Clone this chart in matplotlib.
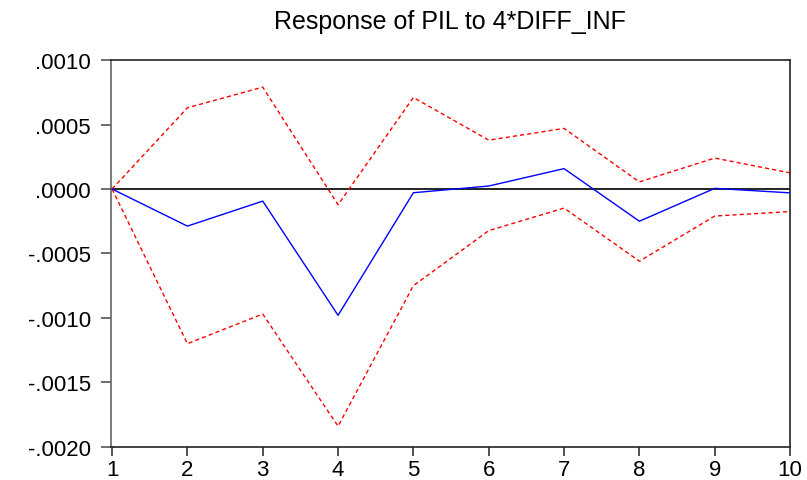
import matplotlib
matplotlib.use("Agg")
import matplotlib.pyplot as plt
import numpy as np

# impulse response periods and values
periods = [1, 2, 3, 4, 5, 6, 7, 8, 9, 10]
response = [0.0, -0.000288, -0.000094, -0.00098, -0.000029, 0.000023,
            0.000158, -0.00025, 0.000005, -0.00003]
upper_band = [0.0, 0.00063, 0.00079, -0.000122, 0.00071, 0.000379,
              0.00047, 0.000055, 0.00024, 0.000125]
lower_band = [0.0, -0.0012, -0.00097, -0.00184, -0.00075, -0.000323,
              -0.000148, -0.00056, -0.00021, -0.000175]
ytick_vals = [0.0010, 0.0005, 0.0, -0.0005, -0.0010, -0.0015, -0.0020]
ytick_labels = [".0010", ".0005", ".0000", "-.0005", "-.0010", "-.0015", "-.0020"]

plt.rcParams['font.family'] = ['Liberation Sans', 'DejaVu Sans']

fig = plt.figure(figsize=(8.07, 4.81), dpi=100)
ax = fig.add_axes([0.137, 0.069, 0.842, 0.804])

ax.axhline(0, color="black", linewidth=1.2, zorder=1)
ax.plot(periods, upper_band, color="#ff0000", linewidth=1.0, dashes=(3, 2.2), zorder=2)
ax.plot(periods, lower_band, color="#ff0000", linewidth=1.0, dashes=(3, 2.2), zorder=2)
ax.plot(periods, response, color="#0000ff", linewidth=1.0, zorder=3)

ax.set_xlim(0.98, 10)
ax.set_ylim(-0.0020, 0.0010)
ax.set_xticks(periods)
ax.set_xticklabels([str(p) for p in periods])
ax.set_yticks(ytick_vals)
ax.set_yticklabels(ytick_labels)

ax.tick_params(axis="y", direction="out", length=7, width=1.2, pad=7,
               labelsize=16, colors="#555555", labelcolor="black")
ax.tick_params(axis="x", direction="out", length=6.5, width=1.2, pad=2,
               labelsize=16, colors="#333333", labelcolor="black")

for side in ["top", "right", "bottom"]:
    ax.spines[side].set_color("#222222")
    ax.spines[side].set_linewidth(1.2)
ax.spines["left"].set_color("#666666")
ax.spines["left"].set_linewidth(1.2)

ax.set_title("Response of PIL to 4*DIFF_INF", fontsize=18, pad=23)

fig.savefig("out.png", dpi=100)
